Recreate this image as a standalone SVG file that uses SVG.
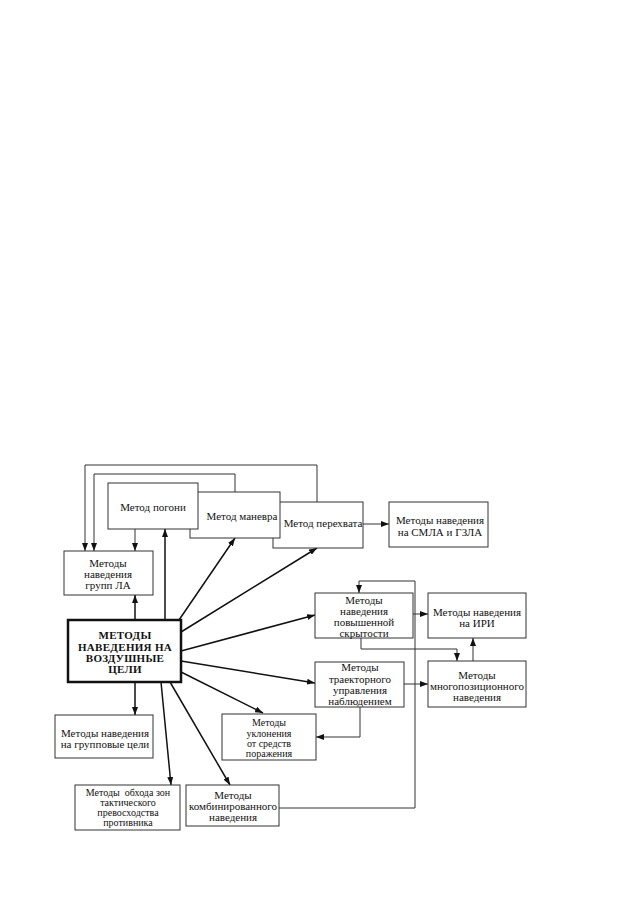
<svg xmlns="http://www.w3.org/2000/svg" width="618" height="917" viewBox="0 0 618 917">
<style>
.box{fill:#fff;stroke:#333;stroke-width:1}
.main{fill:#fff;stroke:#111;stroke-width:2.5}
text{font-family:"Liberation Serif","Times New Roman",serif;font-size:11px;fill:#111;text-anchor:middle}
.b{font-weight:bold;font-size:11px;letter-spacing:0.3px}
.s{font-size:10px}
.ln{fill:none;stroke:#333;stroke-width:1}
.ar{fill:none;stroke:#111;stroke-width:1.5}
</style>
<defs>
<marker id="ah" markerWidth="8" markerHeight="6" refX="8" refY="3" orient="auto" markerUnits="userSpaceOnUse">
<path d="M0,0 L8,3 L0,6 Z" fill="#111"/>
</marker>
</defs>
<rect width="618" height="917" fill="#fff"/>

<g id="connectors">
<path class="ln" d="M317,502 V465 H85 V551" marker-end="url(#ah)"/>
<path class="ln" d="M235,492 V474 H94 V551" marker-end="url(#ah)"/>
<path class="ln" d="M135,529 V551" marker-end="url(#ah)"/>
<path class="ar" d="M165,620 V529" marker-end="url(#ah)"/>
<path class="ar" d="M135,620 V595" marker-end="url(#ah)"/>
<path class="ar" d="M179,620 L235,538" marker-end="url(#ah)"/>
<path class="ar" d="M181,632 L317,548" marker-end="url(#ah)"/>
<path class="ln" d="M363,524 H389" marker-end="url(#ah)"/>
<path class="ar" d="M181,651 L315,615" marker-end="url(#ah)"/>
<path class="ar" d="M181,661 L315,683" marker-end="url(#ah)"/>
<path class="ar" d="M181,672 L263,713" marker-end="url(#ah)"/>
<path class="ar" d="M135,682 V715" marker-end="url(#ah)"/>
<path class="ar" d="M161,682 L171,785" marker-end="url(#ah)"/>
<path class="ar" d="M170,682 L230,785" marker-end="url(#ah)"/>
<path class="ln" d="M413,614 H428" marker-end="url(#ah)"/>
<path class="ln" d="M404,684 H428" marker-end="url(#ah)"/>
<path class="ln" d="M473,661 V638" marker-end="url(#ah)"/>
<path class="ln" d="M360,707 V737 H316" marker-end="url(#ah)"/>
<path class="ln" d="M279,808 H415 V581 H359 V593" marker-end="url(#ah)" marker-start="url(#ah)"/>
<path class="ln" d="M361,638 V649 H457 V661" marker-end="url(#ah)" marker-start="url(#ah)"/>
</g>

<g id="n-perehvat"><rect class="box" x="273" y="502" width="90" height="46"/><text x="323" y="527">Метод перехвата</text></g>
<g id="n-manevr"><rect class="box" x="190" y="492" width="90" height="46"/><text x="242" y="520">Метод маневра</text></g>
<g id="n-pogon"><rect class="box" x="108" y="483" width="90" height="46"/><text x="153" y="511">Метод погони</text></g>
<g id="n-smla"><rect class="box" x="389" y="502" width="99" height="45"/><text x="440" y="524">Методы наведения</text><text x="440" y="536">на СМЛА и ГЗЛА</text></g>
<g id="n-grla"><rect class="box" x="64" y="551" width="89" height="44"/><text x="108" y="567">Методы</text><text x="108" y="578">наведения</text><text x="108" y="589">групп ЛА</text></g>
<g id="n-main"><rect class="main" x="68" y="620" width="113" height="62"/><text class="b" x="125" y="639">МЕТОДЫ</text><text class="b" x="125" y="651">НАВЕДЕНИЯ НА</text><text class="b" x="125" y="662">ВОЗДУШНЫЕ</text><text class="b" x="125" y="673">ЦЕЛИ</text></g>
<g id="n-skryt"><rect class="box" x="315" y="593" width="98" height="45"/><text x="364" y="604">Методы</text><text x="364" y="615">наведения</text><text x="364" y="626">повышенной</text><text x="364" y="637">скрытости</text></g>
<g id="n-iri"><rect class="box" x="428" y="593" width="98" height="45"/><text x="477" y="616">Методы наведения</text><text x="477" y="627">на ИРИ</text></g>
<g id="n-traekt"><rect class="box" x="315" y="662" width="89" height="45"/><text x="360" y="671">Методы</text><text x="360" y="683">траекторного</text><text x="360" y="694">управления</text><text x="360" y="705">наблюдением</text></g>
<g id="n-mnogo"><rect class="box" x="428" y="661" width="98" height="46"/><text x="477" y="679">Методы</text><text x="477" y="690">многопозиционного</text><text x="477" y="701">наведения</text></g>
<g id="n-uklon"><rect class="box" x="222" y="714" width="94" height="46"/><text class="s" x="269" y="726">Методы</text><text class="s" x="269" y="737">уклонения</text><text class="s" x="269" y="747">от средств</text><text class="s" x="269" y="757">поражения</text></g>
<g id="n-grupp"><rect class="box" x="55" y="715" width="98" height="43"/><text x="105" y="737">Методы наведения</text><text x="105" y="748">на групповые цели</text></g>
<g id="n-obhod"><rect class="box" x="75" y="785" width="105" height="45"/><text class="s" x="128" y="796" xml:space="preserve">Методы  обхода зон</text><text class="s" x="128" y="806">тактического</text><text class="s" x="128" y="816">превосходства</text><text class="s" x="128" y="826">противника</text></g>
<g id="n-komb"><rect class="box" x="186" y="785" width="93" height="41"/><text x="233" y="799">Методы</text><text x="233" y="810">комбинированного</text><text x="233" y="821">наведения</text></g>
</svg>
